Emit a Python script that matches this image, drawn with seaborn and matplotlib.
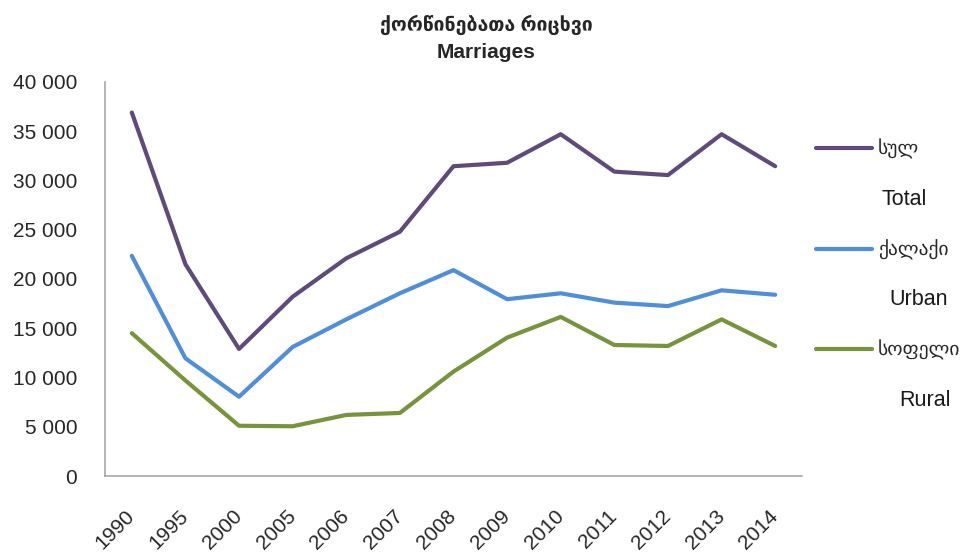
import matplotlib
matplotlib.use("Agg")
import matplotlib.pyplot as plt
import seaborn as sns
import pandas as pd

years = ["1990", "1995", "2000", "2005", "2006", "2007", "2008",
         "2009", "2010", "2011", "2012", "2013", "2014"]
total = [36900, 21500, 12900, 18200, 22100, 24800, 31450,
         31800, 34700, 30900, 30550, 34700, 31450]
urban = [22350, 11950, 8050, 13100, 15900, 18550, 20900,
         17950, 18550, 17600, 17250, 18850, 18400]
rural = [14500, 9700, 5100, 5050, 6200, 6400, 10600,
         14050, 16150, 13300, 13200, 15900, 13200]

series_ka = ["სულ", "ქალაქი", "სოფელი"]
series_en = ["Total", "Urban", "Rural"]
colors = ["#604A7B", "#4F8FDA", "#77933C"]

title_ka = "ქორწინებათა რიცხვი"
title_en = "Marriages"

rows = []
for name, vals in zip(series_ka, [total, urban, rural]):
    for y, v in zip(years, vals):
        rows.append({"year": y, "value": v, "series": name})
df = pd.DataFrame(rows)

sns.set_style("white")
plt.rcParams["font.family"] = ["Liberation Sans", "DejaVu Sans"]

fig = plt.figure(figsize=(9.73, 5.54), dpi=100)
ax = fig.add_axes([105 / 973, 78 / 554, 697 / 973, 394 / 554])

sns.lineplot(data=df, x="year", y="value", hue="series", hue_order=series_ka,
             palette=dict(zip(series_ka, colors)), linewidth=3.0, sort=False, ax=ax)

ax.set_xlim(-0.5, len(years) - 0.5)
ax.set_ylim(0, 40000)
ax.set_yticks(range(0, 40001, 5000))
ax.set_yticklabels([f"{v:,}".replace(",", " ") for v in range(0, 40001, 5000)])
ax.set_xlabel("")
ax.set_ylabel("")

for s in ["top", "right"]:
    ax.spines[s].set_visible(False)
for s in ["left", "bottom"]:
    ax.spines[s].set_color("#A0A0A0")
    ax.spines[s].set_linewidth(1.1)

ax.tick_params(axis="y", length=0, pad=20, labelsize=15, labelcolor="#262626")
ax.tick_params(axis="x", length=0, pad=27, labelsize=15, labelcolor="#262626")
for lbl in ax.get_xticklabels():
    lbl.set_rotation(45)
    lbl.set_rotation_mode("anchor")
    lbl.set_ha("right")
    lbl.set_va("center")

handles, labels = ax.get_legend_handles_labels()
leg = ax.legend(handles, labels, loc="upper left", frameon=False,
                bbox_to_anchor=(816 / 973, 1 - 139 / 554), bbox_transform=fig.transFigure,
                borderpad=0, borderaxespad=0, fontsize=14, handlelength=2.9,
                handletextpad=0.3, labelspacing=4.13)
# english names sit under the georgian legend labels
for txt, en in zip(leg.get_texts(), series_en):
    ax.annotate(en, xy=(0.5, 0.5), xycoords=txt, xytext=(4, -36),
                textcoords="offset points", ha="center", va="center",
                fontsize=15.5, color="#1a1a1a", zorder=10, annotation_clip=False)

fig.text(0.5, 1 - 25 / 554, title_ka, ha="center", va="center",
         fontsize=14, fontweight="bold")
fig.text(0.5, 1 - 52 / 554, title_en, ha="center", va="center",
         fontsize=15, fontweight="bold")

fig.savefig("out.png", dpi=100)
